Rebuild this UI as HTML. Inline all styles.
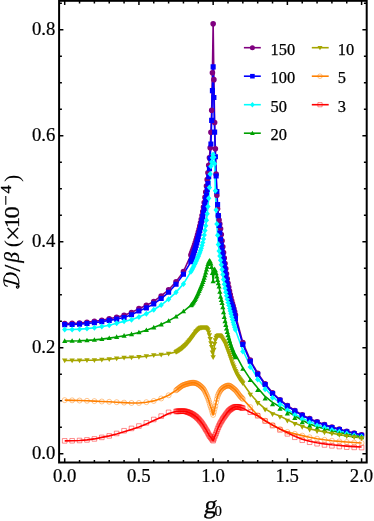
<!DOCTYPE html>
<html><head><meta charset="utf-8"><title>plot</title>
<style>html,body{margin:0;padding:0;background:#fff;}body{width:374px;height:521px;overflow:hidden;font-family:"Liberation Serif",serif;}svg{display:block;will-change:transform;}</style>
</head><body>
<svg width="374" height="521" viewBox="0 0 374 521">
<rect width="374" height="521" fill="#fff"/>
<g clip-path="url(#cp)">
<path d="M64.7 323.58L72.12 323.38L79.55 323L86.97 322.33L94.39 321.36L101.81 320.21L109.24 318.81L116.66 317.23L124.08 315.26L131.5 312.45L138.93 308.59L146.35 305.41L153.77 301.43L161.19 295.97L168.62 289.77L176.04 281.77L183.46 271.64L190.88 254.99L191.62 253.07L192.37 251.08L193.11 249.04L193.85 246.93L194.59 244.73L195.34 242.45L196.08 240.06L196.82 237.56L197.56 234.92L198.31 232.14L199.05 229.22L199.79 226.13L200.53 222.85L201.27 219.36L202.02 215.62L202.76 211.57L203.5 207.17L204.24 202.44L204.99 197.41L205.73 192.01L206.47 186.09L207.21 179.65L207.95 172.69L208.7 165.37L209.44 157.7L210.18 147.83L210.92 132.26L211.67 110.32L212.41 72.81L213.15 23.87L213.89 79.63L214.63 122.45L215.38 148.79L216.12 174.13L216.86 195.24L217.6 208.75L218.35 215.68L219.09 220.12L219.83 224.12L220.57 228.72L221.31 234.43L222.06 240.68L222.8 246.73L223.54 252.44L224.28 258.06L225.03 263.47L225.77 268.67L226.51 273.81L227.25 278.72L228 283.23L228.74 287.28L229.48 291.03L230.22 294.52L230.96 297.77L231.71 300.8L232.45 303.6L233.19 306.05L233.93 308.72L234.68 311.77L235.42 314.99L242.84 342.66L250.26 360.15L257.69 373.25L265.11 383.74L272.53 392.8L279.95 399.75L287.38 405.52L294.8 410.5L302.22 414.85L309.64 418.67L317.07 421.79L324.49 424.55L331.91 426.94L339.33 429.06L346.76 431.18L354.18 433.03L361.6 434.78" fill="none" stroke="#800080" stroke-width="1.6" stroke-linejoin="round"/>
<path d="M64.7 324.64L72.12 324.49L79.55 324.17L86.97 323.57L94.39 322.68L101.81 321.64L109.24 320.4L116.66 319.09L124.08 317.44L131.5 314.79L138.93 311.02L146.35 307.84L153.77 303.92L161.19 298.52L168.62 292.31L176.04 284.31L183.46 274.19L190.88 261.81L191.62 259.81L192.37 257.65L193.11 255.36L193.85 252.95L194.59 250.46L195.34 247.93L196.08 245.36L196.82 242.64L197.56 239.78L198.31 236.79L199.05 233.68L199.79 230.47L200.53 227.2L201.27 223.82L202.02 220.3L202.76 216.62L203.5 212.72L204.24 208.56L204.99 204.2L205.73 199.6L206.47 194.7L207.21 189.38L207.95 183.47L208.7 176.69L209.44 168.58L210.18 158.28L210.92 144.02L211.67 120.33L212.41 90.65L213.15 66.91L213.89 97.54L214.63 132.1L215.38 156.79L216.12 175.98L216.86 191.53L217.6 204.49L218.35 215.66L219.09 225.4L219.83 233.07L220.57 239.28L221.31 244.89L222.06 250.32L222.8 255.38L223.54 260.25L224.28 265.1L225.03 270.13L225.77 275.33L226.51 280.33L227.25 284.9L228 289.18L228.74 293.31L229.48 297.13L230.22 300.49L230.96 303.31L231.71 305.41L232.45 307.17L233.19 309.32L233.93 312.11L234.68 315.3L235.42 318.66L242.84 344.52L250.26 361.32L257.69 374.2L265.11 384.48L272.53 393.49L279.95 400.38L287.38 406.11L294.8 411.09L302.22 415.38L309.64 419.2L317.07 422.32L324.49 425.08L331.91 427.46L339.33 429.59L346.76 431.71L354.18 433.56L361.6 435.31" fill="none" stroke="#0000ff" stroke-width="1.6" stroke-linejoin="round"/>
<path d="M64.7 329.57L72.12 329.44L79.55 329.15L86.97 328.59L94.39 327.72L101.81 326.6L109.24 325.17L116.66 323.32L124.08 321.36L131.5 319.82L138.93 317.01L146.35 313.83L153.77 309.7L161.19 305.03L168.62 299.2L176.04 292.31L183.46 283.89L190.88 271.7L191.62 270.32L192.37 268.91L193.11 267.47L193.85 265.99L194.59 264.47L195.34 262.9L196.08 261.31L196.82 259.71L197.56 258.07L198.31 256.38L199.05 254.59L199.79 252.67L200.53 250.57L201.27 248.2L202.02 245.49L202.76 242.39L203.5 238.89L204.24 234.95L204.99 230.59L205.73 225.73L206.47 220.13L207.21 213.72L207.95 206.49L208.7 198.15L209.44 187.52L210.18 174L210.92 166.29L211.67 162.07L212.41 157.69L213.15 154.62L213.89 157.26L214.63 163.69L215.38 190.65L216.12 210.01L216.86 224.01L217.6 235.24L218.35 244.45L219.09 251.12L219.83 256.03L220.57 260.34L221.31 264.7L222.06 269.48L222.8 274.53L223.54 279.51L224.28 284.16L225.03 288.34L225.77 292.2L226.51 295.82L227.25 299.22L228 302.39L228.74 305.32L229.48 308.06L230.22 310.91L230.96 313.78L231.71 316.64L232.45 319.45L233.19 322.17L233.93 324.8L234.68 327.32L235.42 329.74L242.84 350.51L250.26 365.99L257.69 378.55L265.11 388.3L272.53 396.73L279.95 403.19L287.38 409.18L294.8 414.11L302.22 418.19L309.64 421.58L317.07 424.81L324.49 427.2L331.91 429.32L339.33 431.33L346.76 433.14L354.18 434.88L361.6 436.48" fill="none" stroke="#00ffff" stroke-width="1.6" stroke-linejoin="round"/>
<path d="M64.7 341.02L72.12 340.94L79.55 340.76L86.97 340.41L94.39 339.86L101.81 339.11L109.24 338.16L116.66 337.06L124.08 335.77L131.5 334.29L138.93 332.44L146.35 330.21L153.77 327.51L161.19 324.49L168.62 320.88L176.04 316.59L183.46 311.39L190.88 305.41L191.62 304.55L192.37 303.6L193.11 302.56L193.85 301.43L194.59 300.2L195.34 298.88L196.08 297.47L196.82 295.97L197.56 294.4L198.31 292.75L199.05 291.05L199.79 289.31L200.53 287.56L201.27 285.83L202.02 284.12L202.76 282.23L203.5 280.11L204.24 277.78L204.99 275.24L205.73 272.53L206.47 269.68L207.21 266.8L207.95 264.08L208.7 261.84L209.44 260.73L210.18 261.38L210.92 263.64L211.67 267.14L212.41 273.01L213.15 281.29L213.89 272.97L214.63 269.19L215.38 270.39L216.12 273.3L216.86 276.67L217.6 280.06L218.35 283.31L219.09 286.69L219.83 291.57L220.57 296.14L221.31 299L222.06 301.53L222.8 305.3L223.54 309.99L224.28 314.4L225.03 318.06L225.77 321.88L226.51 325.49L227.25 328.89L228 332.08L228.74 335.08L229.48 337.87L230.22 340.48L230.96 342.91L231.71 345.16L232.45 347.25L233.19 349.18L233.93 350.96L234.68 352.58L235.42 354.07L242.84 367.84L250.26 379.08L257.69 387.98L265.11 396.47L272.53 402.35L279.95 406.81L287.38 411.37L294.8 415.9L302.22 420.31L309.64 424.07L317.07 426.67L324.49 428.79L331.91 430.74L339.33 432.5L346.76 434.06L354.18 435.47L361.6 436.74" fill="none" stroke="#00a000" stroke-width="1.6" stroke-linejoin="round"/>
<path d="M64.7 360.47L72.12 360.46L79.55 360.42L86.97 360.31L94.39 360.1L101.81 359.68L109.24 359.1L116.66 358.45L124.08 357.82L131.5 357.41L138.93 356.98L146.35 356.22L153.77 355.23L161.19 354.7L168.62 353.69L176.04 351.86L176.78 351.53L177.52 351.15L178.26 350.73L179.01 350.27L179.75 349.8L180.49 349.31L181.23 348.78L181.98 348.21L182.72 347.61L183.46 346.97L184.2 346.3L184.94 345.6L185.69 344.89L186.43 344.15L187.17 343.36L187.91 342.54L188.66 341.68L189.4 340.8L190.14 339.89L190.88 338.97L191.62 338.05L192.37 337.07L193.11 336.03L193.85 334.95L194.59 333.87L195.34 332.81L196.08 331.83L196.82 330.97L197.56 330.21L198.31 329.44L199.05 328.71L199.79 328.12L200.53 327.75L201.27 327.58L202.02 327.44L202.76 327.32L203.5 327.23L204.24 327.19L204.99 327.27L205.73 327.62L206.47 328.21L207.21 328.99L207.95 330.32L208.7 332.46L209.44 335.15L210.18 338.98L210.92 343.09L211.67 347.06L212.41 352.35L213.15 357.24L213.89 349.8L214.63 343.96L215.38 340.22L216.12 337.63L216.86 336.51L217.6 335.85L218.35 335.44L219.09 335.26L219.83 335.39L220.57 336.04L221.31 337.01L222.06 338.15L222.8 339.37L223.54 340.61L224.28 341.83L225.03 343.14L225.77 344.82L226.51 346.72L227.25 348.74L228 350.79L228.74 352.8L229.48 354.76L230.22 356.86L230.96 359.06L231.71 361.26L232.45 363.41L233.19 365.43L233.93 367.3L234.68 369.1L235.42 370.86L236.16 372.54L236.9 374.13L237.64 375.61L238.39 376.97L239.13 378.18L239.87 379.28L240.61 380.29L241.36 381.27L242.1 382.24L242.84 383.24L250.26 393.81L257.69 402.29L265.11 408.91L272.53 413.3L279.95 416.06L287.38 419.87L294.8 423.22L302.22 426.11L309.64 428.88L317.07 430.49L324.49 431.86L331.91 433.29L339.33 434.62L346.76 435.85L354.18 436.99L361.6 438.06" fill="none" stroke="#a6a600" stroke-width="1.6" stroke-linejoin="round"/>
<path d="M64.7 400.17L72.12 400.33L79.55 400.54L86.97 400.81L94.39 401.12L101.81 401.5L109.24 401.81L116.66 402.18L124.08 402.61L131.5 402.98L138.93 402.98L146.35 402.18L153.77 400.91L161.19 398.47L168.62 395.29L176.04 390.34L176.78 389.76L177.52 389.17L178.26 388.58L179.01 387.98L179.75 387.39L180.49 386.82L181.23 386.28L181.98 385.8L182.72 385.38L183.46 385.05L184.2 384.8L184.94 384.55L185.69 384.31L186.43 384.08L187.17 383.85L187.91 383.63L188.66 383.43L189.4 383.24L190.14 383.07L190.88 382.93L191.62 382.83L192.37 382.76L193.11 382.73L193.85 382.77L194.59 382.86L195.34 383.02L196.08 383.25L196.82 383.54L197.56 383.9L198.31 384.33L199.05 384.82L199.79 385.38L200.53 386L201.27 386.66L202.02 387.37L202.76 388.11L203.5 389.04L204.24 390.19L204.99 391.55L205.73 393.09L206.47 394.75L207.21 396.43L207.95 398.27L208.7 400.41L209.44 402.83L210.18 405.38L210.92 407.62L211.67 409.8L212.41 412.53L213.15 414.9L213.89 412.04L214.63 408.85L215.38 406.07L216.12 402.46L216.86 399.07L217.6 396.34L218.35 394.34L219.09 392.79L219.83 391.44L220.57 390.28L221.31 389.32L222.06 388.54L222.8 387.92L223.54 387.42L224.28 386.95L225.03 386.53L225.77 386.17L226.51 385.88L227.25 385.68L228 385.57L228.74 385.55L229.48 385.7L230.22 386.03L230.96 386.48L231.71 387.01L232.45 387.6L233.19 388.22L233.93 388.84L234.68 389.45L235.42 390.11L236.16 390.93L236.9 391.86L237.64 392.85L238.39 393.86L239.13 394.86L239.87 395.82L240.61 396.71L241.36 397.52L242.1 398.26L242.84 398.98L250.26 407.09L257.69 415.27L265.11 420.67L272.53 424.98L279.95 429.01L287.38 431.9L294.8 433.82L302.22 435.62L309.64 437.28L317.07 438.68L324.49 439.81L331.91 440.69L339.33 441.4L346.76 442.02L354.18 442.55L361.6 442.99" fill="none" stroke="#ff8000" stroke-width="1.6" stroke-linejoin="round"/>
<path d="M64.7 440.87L72.12 440.77L79.55 440.5L86.97 439.91L94.39 438.91L101.81 437.38L109.24 435.89L116.66 433.98L124.08 431.81L131.5 429.48L138.93 427.09L146.35 423.91L153.77 420.57L161.19 417.18L168.62 413.42L176.04 411.42L176.78 411.38L177.52 411.34L178.26 411.31L179.01 411.28L179.75 411.26L180.49 411.24L181.23 411.22L181.98 411.21L182.72 411.2L183.46 411.19L184.2 411.21L184.94 411.29L185.69 411.43L186.43 411.63L187.17 411.87L187.91 412.14L188.66 412.42L189.4 412.7L190.14 413L190.88 413.34L191.62 413.72L192.37 414.14L193.11 414.59L193.85 415.08L194.59 415.6L195.34 416.15L196.08 416.75L196.82 417.41L197.56 418.13L198.31 418.9L199.05 419.72L199.79 420.57L200.53 421.44L201.27 422.35L202.02 423.34L202.76 424.41L203.5 425.55L204.24 426.74L204.99 427.96L205.73 429.19L206.47 430.38L207.21 431.66L207.95 433.04L208.7 434.47L209.44 435.78L210.18 436.71L210.92 437.61L211.67 438.64L212.41 439.8L213.15 440.71L213.89 438.84L214.63 436.65L215.38 434.88L216.12 433.12L216.86 431.05L217.6 429.02L218.35 427.17L219.09 425.54L219.83 424.08L220.57 422.68L221.31 421.34L222.06 420.07L222.8 418.87L223.54 417.74L224.28 416.67L225.03 415.66L225.77 414.63L226.51 413.59L227.25 412.59L228 411.66L228.74 410.82L229.48 410.09L230.22 409.49L230.96 408.99L231.71 408.5L232.45 408.03L233.19 407.61L233.93 407.26L234.68 406.99L235.42 406.82L236.16 406.74L236.9 406.76L237.64 406.83L238.39 406.94L239.13 407.08L239.87 407.26L240.61 407.46L241.36 407.68L242.1 407.91L242.84 408.16L250.26 412.2L257.69 415.81L265.11 420.78L272.53 425.09L279.95 429.11L287.38 432.81L294.8 436.21L302.22 439.18L309.64 441.18L317.07 442.69L324.49 443.89L331.91 444.78L339.33 445.49L346.76 446.08L354.18 446.6L361.6 447.02" fill="none" stroke="#ff0000" stroke-width="1.6" stroke-linejoin="round"/>
<path d="M64.7 323.58m-2.8 0a2.8 2.8 0 1 0 5.6 0a2.8 2.8 0 1 0 -5.6 0M72.12 323.38m-2.8 0a2.8 2.8 0 1 0 5.6 0a2.8 2.8 0 1 0 -5.6 0M79.55 323m-2.8 0a2.8 2.8 0 1 0 5.6 0a2.8 2.8 0 1 0 -5.6 0M86.97 322.33m-2.8 0a2.8 2.8 0 1 0 5.6 0a2.8 2.8 0 1 0 -5.6 0M94.39 321.36m-2.8 0a2.8 2.8 0 1 0 5.6 0a2.8 2.8 0 1 0 -5.6 0M101.81 320.21m-2.8 0a2.8 2.8 0 1 0 5.6 0a2.8 2.8 0 1 0 -5.6 0M109.24 318.81m-2.8 0a2.8 2.8 0 1 0 5.6 0a2.8 2.8 0 1 0 -5.6 0M116.66 317.23m-2.8 0a2.8 2.8 0 1 0 5.6 0a2.8 2.8 0 1 0 -5.6 0M124.08 315.26m-2.8 0a2.8 2.8 0 1 0 5.6 0a2.8 2.8 0 1 0 -5.6 0M131.5 312.45m-2.8 0a2.8 2.8 0 1 0 5.6 0a2.8 2.8 0 1 0 -5.6 0M138.93 308.59m-2.8 0a2.8 2.8 0 1 0 5.6 0a2.8 2.8 0 1 0 -5.6 0M146.35 305.41m-2.8 0a2.8 2.8 0 1 0 5.6 0a2.8 2.8 0 1 0 -5.6 0M153.77 301.43m-2.8 0a2.8 2.8 0 1 0 5.6 0a2.8 2.8 0 1 0 -5.6 0M161.19 295.97m-2.8 0a2.8 2.8 0 1 0 5.6 0a2.8 2.8 0 1 0 -5.6 0M168.62 289.77m-2.8 0a2.8 2.8 0 1 0 5.6 0a2.8 2.8 0 1 0 -5.6 0M176.04 281.77m-2.8 0a2.8 2.8 0 1 0 5.6 0a2.8 2.8 0 1 0 -5.6 0M183.46 271.64m-2.8 0a2.8 2.8 0 1 0 5.6 0a2.8 2.8 0 1 0 -5.6 0M190.88 254.99m-2.8 0a2.8 2.8 0 1 0 5.6 0a2.8 2.8 0 1 0 -5.6 0M191.62 253.07m-2.8 0a2.8 2.8 0 1 0 5.6 0a2.8 2.8 0 1 0 -5.6 0M192.37 251.08m-2.8 0a2.8 2.8 0 1 0 5.6 0a2.8 2.8 0 1 0 -5.6 0M193.11 249.04m-2.8 0a2.8 2.8 0 1 0 5.6 0a2.8 2.8 0 1 0 -5.6 0M193.85 246.93m-2.8 0a2.8 2.8 0 1 0 5.6 0a2.8 2.8 0 1 0 -5.6 0M194.59 244.73m-2.8 0a2.8 2.8 0 1 0 5.6 0a2.8 2.8 0 1 0 -5.6 0M195.34 242.45m-2.8 0a2.8 2.8 0 1 0 5.6 0a2.8 2.8 0 1 0 -5.6 0M196.08 240.06m-2.8 0a2.8 2.8 0 1 0 5.6 0a2.8 2.8 0 1 0 -5.6 0M196.82 237.56m-2.8 0a2.8 2.8 0 1 0 5.6 0a2.8 2.8 0 1 0 -5.6 0M197.56 234.92m-2.8 0a2.8 2.8 0 1 0 5.6 0a2.8 2.8 0 1 0 -5.6 0M198.31 232.14m-2.8 0a2.8 2.8 0 1 0 5.6 0a2.8 2.8 0 1 0 -5.6 0M199.05 229.22m-2.8 0a2.8 2.8 0 1 0 5.6 0a2.8 2.8 0 1 0 -5.6 0M199.79 226.13m-2.8 0a2.8 2.8 0 1 0 5.6 0a2.8 2.8 0 1 0 -5.6 0M200.53 222.85m-2.8 0a2.8 2.8 0 1 0 5.6 0a2.8 2.8 0 1 0 -5.6 0M201.27 219.36m-2.8 0a2.8 2.8 0 1 0 5.6 0a2.8 2.8 0 1 0 -5.6 0M202.02 215.62m-2.8 0a2.8 2.8 0 1 0 5.6 0a2.8 2.8 0 1 0 -5.6 0M202.76 211.57m-2.8 0a2.8 2.8 0 1 0 5.6 0a2.8 2.8 0 1 0 -5.6 0M203.5 207.17m-2.8 0a2.8 2.8 0 1 0 5.6 0a2.8 2.8 0 1 0 -5.6 0M204.24 202.44m-2.8 0a2.8 2.8 0 1 0 5.6 0a2.8 2.8 0 1 0 -5.6 0M204.99 197.41m-2.8 0a2.8 2.8 0 1 0 5.6 0a2.8 2.8 0 1 0 -5.6 0M205.73 192.01m-2.8 0a2.8 2.8 0 1 0 5.6 0a2.8 2.8 0 1 0 -5.6 0M206.47 186.09m-2.8 0a2.8 2.8 0 1 0 5.6 0a2.8 2.8 0 1 0 -5.6 0M207.21 179.65m-2.8 0a2.8 2.8 0 1 0 5.6 0a2.8 2.8 0 1 0 -5.6 0M207.95 172.69m-2.8 0a2.8 2.8 0 1 0 5.6 0a2.8 2.8 0 1 0 -5.6 0M208.7 165.37m-2.8 0a2.8 2.8 0 1 0 5.6 0a2.8 2.8 0 1 0 -5.6 0M209.44 157.7m-2.8 0a2.8 2.8 0 1 0 5.6 0a2.8 2.8 0 1 0 -5.6 0M210.18 147.83m-2.8 0a2.8 2.8 0 1 0 5.6 0a2.8 2.8 0 1 0 -5.6 0M210.92 132.26m-2.8 0a2.8 2.8 0 1 0 5.6 0a2.8 2.8 0 1 0 -5.6 0M211.67 110.32m-2.8 0a2.8 2.8 0 1 0 5.6 0a2.8 2.8 0 1 0 -5.6 0M212.41 72.81m-2.8 0a2.8 2.8 0 1 0 5.6 0a2.8 2.8 0 1 0 -5.6 0M213.15 23.87m-2.8 0a2.8 2.8 0 1 0 5.6 0a2.8 2.8 0 1 0 -5.6 0M213.89 79.63m-2.8 0a2.8 2.8 0 1 0 5.6 0a2.8 2.8 0 1 0 -5.6 0M214.63 122.45m-2.8 0a2.8 2.8 0 1 0 5.6 0a2.8 2.8 0 1 0 -5.6 0M215.38 148.79m-2.8 0a2.8 2.8 0 1 0 5.6 0a2.8 2.8 0 1 0 -5.6 0M216.12 174.13m-2.8 0a2.8 2.8 0 1 0 5.6 0a2.8 2.8 0 1 0 -5.6 0M216.86 195.24m-2.8 0a2.8 2.8 0 1 0 5.6 0a2.8 2.8 0 1 0 -5.6 0M217.6 208.75m-2.8 0a2.8 2.8 0 1 0 5.6 0a2.8 2.8 0 1 0 -5.6 0M218.35 215.68m-2.8 0a2.8 2.8 0 1 0 5.6 0a2.8 2.8 0 1 0 -5.6 0M219.09 220.12m-2.8 0a2.8 2.8 0 1 0 5.6 0a2.8 2.8 0 1 0 -5.6 0M219.83 224.12m-2.8 0a2.8 2.8 0 1 0 5.6 0a2.8 2.8 0 1 0 -5.6 0M220.57 228.72m-2.8 0a2.8 2.8 0 1 0 5.6 0a2.8 2.8 0 1 0 -5.6 0M221.31 234.43m-2.8 0a2.8 2.8 0 1 0 5.6 0a2.8 2.8 0 1 0 -5.6 0M222.06 240.68m-2.8 0a2.8 2.8 0 1 0 5.6 0a2.8 2.8 0 1 0 -5.6 0M222.8 246.73m-2.8 0a2.8 2.8 0 1 0 5.6 0a2.8 2.8 0 1 0 -5.6 0M223.54 252.44m-2.8 0a2.8 2.8 0 1 0 5.6 0a2.8 2.8 0 1 0 -5.6 0M224.28 258.06m-2.8 0a2.8 2.8 0 1 0 5.6 0a2.8 2.8 0 1 0 -5.6 0M225.03 263.47m-2.8 0a2.8 2.8 0 1 0 5.6 0a2.8 2.8 0 1 0 -5.6 0M225.77 268.67m-2.8 0a2.8 2.8 0 1 0 5.6 0a2.8 2.8 0 1 0 -5.6 0M226.51 273.81m-2.8 0a2.8 2.8 0 1 0 5.6 0a2.8 2.8 0 1 0 -5.6 0M227.25 278.72m-2.8 0a2.8 2.8 0 1 0 5.6 0a2.8 2.8 0 1 0 -5.6 0M228 283.23m-2.8 0a2.8 2.8 0 1 0 5.6 0a2.8 2.8 0 1 0 -5.6 0M228.74 287.28m-2.8 0a2.8 2.8 0 1 0 5.6 0a2.8 2.8 0 1 0 -5.6 0M229.48 291.03m-2.8 0a2.8 2.8 0 1 0 5.6 0a2.8 2.8 0 1 0 -5.6 0M230.22 294.52m-2.8 0a2.8 2.8 0 1 0 5.6 0a2.8 2.8 0 1 0 -5.6 0M230.96 297.77m-2.8 0a2.8 2.8 0 1 0 5.6 0a2.8 2.8 0 1 0 -5.6 0M231.71 300.8m-2.8 0a2.8 2.8 0 1 0 5.6 0a2.8 2.8 0 1 0 -5.6 0M232.45 303.6m-2.8 0a2.8 2.8 0 1 0 5.6 0a2.8 2.8 0 1 0 -5.6 0M233.19 306.05m-2.8 0a2.8 2.8 0 1 0 5.6 0a2.8 2.8 0 1 0 -5.6 0M233.93 308.72m-2.8 0a2.8 2.8 0 1 0 5.6 0a2.8 2.8 0 1 0 -5.6 0M234.68 311.77m-2.8 0a2.8 2.8 0 1 0 5.6 0a2.8 2.8 0 1 0 -5.6 0M235.42 314.99m-2.8 0a2.8 2.8 0 1 0 5.6 0a2.8 2.8 0 1 0 -5.6 0M242.84 342.66m-2.8 0a2.8 2.8 0 1 0 5.6 0a2.8 2.8 0 1 0 -5.6 0M250.26 360.15m-2.8 0a2.8 2.8 0 1 0 5.6 0a2.8 2.8 0 1 0 -5.6 0M257.69 373.25m-2.8 0a2.8 2.8 0 1 0 5.6 0a2.8 2.8 0 1 0 -5.6 0M265.11 383.74m-2.8 0a2.8 2.8 0 1 0 5.6 0a2.8 2.8 0 1 0 -5.6 0M272.53 392.8m-2.8 0a2.8 2.8 0 1 0 5.6 0a2.8 2.8 0 1 0 -5.6 0M279.95 399.75m-2.8 0a2.8 2.8 0 1 0 5.6 0a2.8 2.8 0 1 0 -5.6 0M287.38 405.52m-2.8 0a2.8 2.8 0 1 0 5.6 0a2.8 2.8 0 1 0 -5.6 0M294.8 410.5m-2.8 0a2.8 2.8 0 1 0 5.6 0a2.8 2.8 0 1 0 -5.6 0M302.22 414.85m-2.8 0a2.8 2.8 0 1 0 5.6 0a2.8 2.8 0 1 0 -5.6 0M309.64 418.67m-2.8 0a2.8 2.8 0 1 0 5.6 0a2.8 2.8 0 1 0 -5.6 0M317.07 421.79m-2.8 0a2.8 2.8 0 1 0 5.6 0a2.8 2.8 0 1 0 -5.6 0M324.49 424.55m-2.8 0a2.8 2.8 0 1 0 5.6 0a2.8 2.8 0 1 0 -5.6 0M331.91 426.94m-2.8 0a2.8 2.8 0 1 0 5.6 0a2.8 2.8 0 1 0 -5.6 0M339.33 429.06m-2.8 0a2.8 2.8 0 1 0 5.6 0a2.8 2.8 0 1 0 -5.6 0M346.76 431.18m-2.8 0a2.8 2.8 0 1 0 5.6 0a2.8 2.8 0 1 0 -5.6 0M354.18 433.03m-2.8 0a2.8 2.8 0 1 0 5.6 0a2.8 2.8 0 1 0 -5.6 0M361.6 434.78m-2.8 0a2.8 2.8 0 1 0 5.6 0a2.8 2.8 0 1 0 -5.6 0" fill="#800080"/>
<path d="M62.15 322.09h5.1v5.1h-5.1zM69.57 321.94h5.1v5.1h-5.1zM77 321.62h5.1v5.1h-5.1zM84.42 321.02h5.1v5.1h-5.1zM91.84 320.13h5.1v5.1h-5.1zM99.26 319.09h5.1v5.1h-5.1zM106.69 317.85h5.1v5.1h-5.1zM114.11 316.54h5.1v5.1h-5.1zM121.53 314.89h5.1v5.1h-5.1zM128.95 312.24h5.1v5.1h-5.1zM136.38 308.47h5.1v5.1h-5.1zM143.8 305.29h5.1v5.1h-5.1zM151.22 301.37h5.1v5.1h-5.1zM158.64 295.97h5.1v5.1h-5.1zM166.06 289.76h5.1v5.1h-5.1zM173.49 281.76h5.1v5.1h-5.1zM180.91 271.64h5.1v5.1h-5.1zM188.33 259.26h5.1v5.1h-5.1zM189.07 257.26h5.1v5.1h-5.1zM189.82 255.1h5.1v5.1h-5.1zM190.56 252.81h5.1v5.1h-5.1zM191.3 250.4h5.1v5.1h-5.1zM192.04 247.91h5.1v5.1h-5.1zM192.79 245.38h5.1v5.1h-5.1zM193.53 242.81h5.1v5.1h-5.1zM194.27 240.09h5.1v5.1h-5.1zM195.01 237.23h5.1v5.1h-5.1zM195.75 234.24h5.1v5.1h-5.1zM196.5 231.13h5.1v5.1h-5.1zM197.24 227.92h5.1v5.1h-5.1zM197.98 224.65h5.1v5.1h-5.1zM198.72 221.27h5.1v5.1h-5.1zM199.47 217.75h5.1v5.1h-5.1zM200.21 214.07h5.1v5.1h-5.1zM200.95 210.17h5.1v5.1h-5.1zM201.69 206.01h5.1v5.1h-5.1zM202.44 201.65h5.1v5.1h-5.1zM203.18 197.05h5.1v5.1h-5.1zM203.92 192.15h5.1v5.1h-5.1zM204.66 186.83h5.1v5.1h-5.1zM205.4 180.92h5.1v5.1h-5.1zM206.15 174.14h5.1v5.1h-5.1zM206.89 166.03h5.1v5.1h-5.1zM207.63 155.73h5.1v5.1h-5.1zM208.37 141.47h5.1v5.1h-5.1zM209.12 117.78h5.1v5.1h-5.1zM209.86 88.1h5.1v5.1h-5.1zM210.6 64.36h5.1v5.1h-5.1zM211.34 94.99h5.1v5.1h-5.1zM212.08 129.55h5.1v5.1h-5.1zM212.83 154.24h5.1v5.1h-5.1zM213.57 173.43h5.1v5.1h-5.1zM214.31 188.98h5.1v5.1h-5.1zM215.05 201.94h5.1v5.1h-5.1zM215.8 213.11h5.1v5.1h-5.1zM216.54 222.85h5.1v5.1h-5.1zM217.28 230.52h5.1v5.1h-5.1zM218.02 236.73h5.1v5.1h-5.1zM218.76 242.34h5.1v5.1h-5.1zM219.51 247.77h5.1v5.1h-5.1zM220.25 252.83h5.1v5.1h-5.1zM220.99 257.7h5.1v5.1h-5.1zM221.73 262.55h5.1v5.1h-5.1zM222.48 267.58h5.1v5.1h-5.1zM223.22 272.78h5.1v5.1h-5.1zM223.96 277.78h5.1v5.1h-5.1zM224.7 282.35h5.1v5.1h-5.1zM225.44 286.63h5.1v5.1h-5.1zM226.19 290.76h5.1v5.1h-5.1zM226.93 294.58h5.1v5.1h-5.1zM227.67 297.94h5.1v5.1h-5.1zM228.41 300.76h5.1v5.1h-5.1zM229.16 302.86h5.1v5.1h-5.1zM229.9 304.62h5.1v5.1h-5.1zM230.64 306.77h5.1v5.1h-5.1zM231.38 309.56h5.1v5.1h-5.1zM232.13 312.75h5.1v5.1h-5.1zM232.87 316.11h5.1v5.1h-5.1zM240.29 341.97h5.1v5.1h-5.1zM247.71 358.77h5.1v5.1h-5.1zM255.13 371.65h5.1v5.1h-5.1zM262.56 381.93h5.1v5.1h-5.1zM269.98 390.94h5.1v5.1h-5.1zM277.4 397.83h5.1v5.1h-5.1zM284.82 403.56h5.1v5.1h-5.1zM292.25 408.54h5.1v5.1h-5.1zM299.67 412.83h5.1v5.1h-5.1zM307.09 416.65h5.1v5.1h-5.1zM314.52 419.77h5.1v5.1h-5.1zM321.94 422.53h5.1v5.1h-5.1zM329.36 424.91h5.1v5.1h-5.1zM336.78 427.04h5.1v5.1h-5.1zM344.21 429.16h5.1v5.1h-5.1zM351.63 431.01h5.1v5.1h-5.1zM359.05 432.76h5.1v5.1h-5.1z" fill="#0000ff"/>
<path d="M64.7 326.57l2.65 3l-2.65 3l-2.65 -3zM72.12 326.44l2.65 3l-2.65 3l-2.65 -3zM79.55 326.15l2.65 3l-2.65 3l-2.65 -3zM86.97 325.59l2.65 3l-2.65 3l-2.65 -3zM94.39 324.72l2.65 3l-2.65 3l-2.65 -3zM101.81 323.6l2.65 3l-2.65 3l-2.65 -3zM109.24 322.17l2.65 3l-2.65 3l-2.65 -3zM116.66 320.32l2.65 3l-2.65 3l-2.65 -3zM124.08 318.36l2.65 3l-2.65 3l-2.65 -3zM131.5 316.82l2.65 3l-2.65 3l-2.65 -3zM138.93 314.01l2.65 3l-2.65 3l-2.65 -3zM146.35 310.83l2.65 3l-2.65 3l-2.65 -3zM153.77 306.7l2.65 3l-2.65 3l-2.65 -3zM161.19 302.03l2.65 3l-2.65 3l-2.65 -3zM168.62 296.2l2.65 3l-2.65 3l-2.65 -3zM176.04 289.31l2.65 3l-2.65 3l-2.65 -3zM183.46 280.89l2.65 3l-2.65 3l-2.65 -3zM190.88 268.7l2.65 3l-2.65 3l-2.65 -3zM191.62 267.32l2.65 3l-2.65 3l-2.65 -3zM192.37 265.91l2.65 3l-2.65 3l-2.65 -3zM193.11 264.47l2.65 3l-2.65 3l-2.65 -3zM193.85 262.99l2.65 3l-2.65 3l-2.65 -3zM194.59 261.47l2.65 3l-2.65 3l-2.65 -3zM195.34 259.9l2.65 3l-2.65 3l-2.65 -3zM196.08 258.31l2.65 3l-2.65 3l-2.65 -3zM196.82 256.71l2.65 3l-2.65 3l-2.65 -3zM197.56 255.07l2.65 3l-2.65 3l-2.65 -3zM198.31 253.38l2.65 3l-2.65 3l-2.65 -3zM199.05 251.59l2.65 3l-2.65 3l-2.65 -3zM199.79 249.67l2.65 3l-2.65 3l-2.65 -3zM200.53 247.57l2.65 3l-2.65 3l-2.65 -3zM201.27 245.2l2.65 3l-2.65 3l-2.65 -3zM202.02 242.49l2.65 3l-2.65 3l-2.65 -3zM202.76 239.39l2.65 3l-2.65 3l-2.65 -3zM203.5 235.89l2.65 3l-2.65 3l-2.65 -3zM204.24 231.95l2.65 3l-2.65 3l-2.65 -3zM204.99 227.59l2.65 3l-2.65 3l-2.65 -3zM205.73 222.73l2.65 3l-2.65 3l-2.65 -3zM206.47 217.13l2.65 3l-2.65 3l-2.65 -3zM207.21 210.72l2.65 3l-2.65 3l-2.65 -3zM207.95 203.49l2.65 3l-2.65 3l-2.65 -3zM208.7 195.15l2.65 3l-2.65 3l-2.65 -3zM209.44 184.52l2.65 3l-2.65 3l-2.65 -3zM210.18 171l2.65 3l-2.65 3l-2.65 -3zM210.92 163.29l2.65 3l-2.65 3l-2.65 -3zM211.67 159.07l2.65 3l-2.65 3l-2.65 -3zM212.41 154.69l2.65 3l-2.65 3l-2.65 -3zM213.15 151.62l2.65 3l-2.65 3l-2.65 -3zM213.89 154.26l2.65 3l-2.65 3l-2.65 -3zM214.63 160.69l2.65 3l-2.65 3l-2.65 -3zM215.38 187.65l2.65 3l-2.65 3l-2.65 -3zM216.12 207.01l2.65 3l-2.65 3l-2.65 -3zM216.86 221.01l2.65 3l-2.65 3l-2.65 -3zM217.6 232.24l2.65 3l-2.65 3l-2.65 -3zM218.35 241.45l2.65 3l-2.65 3l-2.65 -3zM219.09 248.12l2.65 3l-2.65 3l-2.65 -3zM219.83 253.03l2.65 3l-2.65 3l-2.65 -3zM220.57 257.34l2.65 3l-2.65 3l-2.65 -3zM221.31 261.7l2.65 3l-2.65 3l-2.65 -3zM222.06 266.48l2.65 3l-2.65 3l-2.65 -3zM222.8 271.53l2.65 3l-2.65 3l-2.65 -3zM223.54 276.51l2.65 3l-2.65 3l-2.65 -3zM224.28 281.16l2.65 3l-2.65 3l-2.65 -3zM225.03 285.34l2.65 3l-2.65 3l-2.65 -3zM225.77 289.2l2.65 3l-2.65 3l-2.65 -3zM226.51 292.82l2.65 3l-2.65 3l-2.65 -3zM227.25 296.22l2.65 3l-2.65 3l-2.65 -3zM228 299.39l2.65 3l-2.65 3l-2.65 -3zM228.74 302.32l2.65 3l-2.65 3l-2.65 -3zM229.48 305.06l2.65 3l-2.65 3l-2.65 -3zM230.22 307.91l2.65 3l-2.65 3l-2.65 -3zM230.96 310.78l2.65 3l-2.65 3l-2.65 -3zM231.71 313.64l2.65 3l-2.65 3l-2.65 -3zM232.45 316.45l2.65 3l-2.65 3l-2.65 -3zM233.19 319.17l2.65 3l-2.65 3l-2.65 -3zM233.93 321.8l2.65 3l-2.65 3l-2.65 -3zM234.68 324.32l2.65 3l-2.65 3l-2.65 -3zM235.42 326.74l2.65 3l-2.65 3l-2.65 -3zM242.84 348.57l2.65 3l-2.65 3l-2.65 -3zM250.26 364.04l2.65 3l-2.65 3l-2.65 -3zM257.69 376.61l2.65 3l-2.65 3l-2.65 -3zM265.11 386.36l2.65 3l-2.65 3l-2.65 -3zM272.53 394.79l2.65 3l-2.65 3l-2.65 -3zM279.95 401.25l2.65 3l-2.65 3l-2.65 -3zM287.38 407.24l2.65 3l-2.65 3l-2.65 -3zM294.8 412.09l2.65 3l-2.65 3l-2.65 -3zM302.22 416.09l2.65 3l-2.65 3l-2.65 -3zM309.64 419.4l2.65 3l-2.65 3l-2.65 -3zM317.07 422.56l2.65 3l-2.65 3l-2.65 -3zM324.49 424.86l2.65 3l-2.65 3l-2.65 -3zM331.91 426.9l2.65 3l-2.65 3l-2.65 -3zM339.33 428.84l2.65 3l-2.65 3l-2.65 -3zM346.76 430.56l2.65 3l-2.65 3l-2.65 -3zM354.18 432.23l2.65 3l-2.65 3l-2.65 -3zM361.6 433.74l2.65 3l-2.65 3l-2.65 -3z" fill="#00ffff"/>
<path d="M64.7 338.32l2.6 4.59h-5.2zM72.12 338.24l2.6 4.59h-5.2zM79.55 338.06l2.6 4.59h-5.2zM86.97 337.71l2.6 4.59h-5.2zM94.39 337.16l2.6 4.59h-5.2zM101.81 336.41l2.6 4.59h-5.2zM109.24 335.46l2.6 4.59h-5.2zM116.66 334.36l2.6 4.59h-5.2zM124.08 333.07l2.6 4.59h-5.2zM131.5 331.59l2.6 4.59h-5.2zM138.93 329.74l2.6 4.59h-5.2zM146.35 327.51l2.6 4.59h-5.2zM153.77 324.81l2.6 4.59h-5.2zM161.19 321.79l2.6 4.59h-5.2zM168.62 318.18l2.6 4.59h-5.2zM176.04 313.89l2.6 4.59h-5.2zM183.46 308.69l2.6 4.59h-5.2zM190.88 302.71l2.6 4.59h-5.2zM191.62 301.85l2.6 4.59h-5.2zM192.37 300.9l2.6 4.59h-5.2zM193.11 299.86l2.6 4.59h-5.2zM193.85 298.73l2.6 4.59h-5.2zM194.59 297.5l2.6 4.59h-5.2zM195.34 296.18l2.6 4.59h-5.2zM196.08 294.77l2.6 4.59h-5.2zM196.82 293.27l2.6 4.59h-5.2zM197.56 291.7l2.6 4.59h-5.2zM198.31 290.05l2.6 4.59h-5.2zM199.05 288.35l2.6 4.59h-5.2zM199.79 286.61l2.6 4.59h-5.2zM200.53 284.86l2.6 4.59h-5.2zM201.27 283.13l2.6 4.59h-5.2zM202.02 281.42l2.6 4.59h-5.2zM202.76 279.53l2.6 4.59h-5.2zM203.5 277.41l2.6 4.59h-5.2zM204.24 275.08l2.6 4.59h-5.2zM204.99 272.54l2.6 4.59h-5.2zM205.73 269.83l2.6 4.59h-5.2zM206.47 266.98l2.6 4.59h-5.2zM207.21 264.1l2.6 4.59h-5.2zM207.95 261.38l2.6 4.59h-5.2zM208.7 259.14l2.6 4.59h-5.2zM209.44 258.03l2.6 4.59h-5.2zM210.18 258.68l2.6 4.59h-5.2zM210.92 260.94l2.6 4.59h-5.2zM211.67 264.44l2.6 4.59h-5.2zM212.41 270.31l2.6 4.59h-5.2zM213.15 278.59l2.6 4.59h-5.2zM213.89 270.27l2.6 4.59h-5.2zM214.63 266.49l2.6 4.59h-5.2zM215.38 267.69l2.6 4.59h-5.2zM216.12 270.6l2.6 4.59h-5.2zM216.86 273.97l2.6 4.59h-5.2zM217.6 277.36l2.6 4.59h-5.2zM218.35 280.61l2.6 4.59h-5.2zM219.09 283.99l2.6 4.59h-5.2zM219.83 289.27l2.6 4.59h-5.2zM220.57 294.24l2.6 4.59h-5.2zM221.31 297.5l2.6 4.59h-5.2zM222.06 300.42l2.6 4.59h-5.2zM222.8 304.58l2.6 4.59h-5.2zM223.54 309.67l2.6 4.59h-5.2zM224.28 314.49l2.6 4.59h-5.2zM225.03 318.54l2.6 4.59h-5.2zM225.77 322.36l2.6 4.59h-5.2zM226.51 325.97l2.6 4.59h-5.2zM227.25 329.37l2.6 4.59h-5.2zM228 332.56l2.6 4.59h-5.2zM228.74 335.56l2.6 4.59h-5.2zM229.48 338.35l2.6 4.59h-5.2zM230.22 340.96l2.6 4.59h-5.2zM230.96 343.39l2.6 4.59h-5.2zM231.71 345.64l2.6 4.59h-5.2zM232.45 347.73l2.6 4.59h-5.2zM233.19 349.66l2.6 4.59h-5.2zM233.93 351.44l2.6 4.59h-5.2zM234.68 353.06l2.6 4.59h-5.2zM235.42 354.55l2.6 4.59h-5.2zM242.84 366.2l2.6 4.59h-5.2zM250.26 377.44l2.6 4.59h-5.2zM257.69 387.4l2.6 4.59h-5.2zM265.11 395.89l2.6 4.59h-5.2zM272.53 401.77l2.6 4.59h-5.2zM279.95 406.23l2.6 4.59h-5.2zM287.38 410.79l2.6 4.59h-5.2zM294.8 415.32l2.6 4.59h-5.2zM302.22 419.73l2.6 4.59h-5.2zM309.64 423.23l2.6 4.59h-5.2zM317.07 425.56l2.6 4.59h-5.2zM324.49 427.42l2.6 4.59h-5.2zM331.91 429.21l2.6 4.59h-5.2zM339.33 430.81l2.6 4.59h-5.2zM346.76 432.21l2.6 4.59h-5.2zM354.18 433.46l2.6 4.59h-5.2zM361.6 434.57l2.6 4.59h-5.2z" fill="#00a000"/>
<path d="M64.7 363.27l-2.7 -4.76h5.4zM72.12 363.26l-2.7 -4.76h5.4zM79.55 363.22l-2.7 -4.76h5.4zM86.97 363.11l-2.7 -4.76h5.4zM94.39 362.9l-2.7 -4.76h5.4zM101.81 362.48l-2.7 -4.76h5.4zM109.24 361.9l-2.7 -4.76h5.4zM116.66 361.25l-2.7 -4.76h5.4zM124.08 360.62l-2.7 -4.76h5.4zM131.5 360.21l-2.7 -4.76h5.4zM138.93 359.78l-2.7 -4.76h5.4zM146.35 359.02l-2.7 -4.76h5.4zM153.77 358.03l-2.7 -4.76h5.4zM161.19 357.5l-2.7 -4.76h5.4zM168.62 356.49l-2.7 -4.76h5.4zM176.04 354.66l-2.7 -4.76h5.4zM176.78 354.33l-2.7 -4.76h5.4zM177.52 353.95l-2.7 -4.76h5.4zM178.26 353.53l-2.7 -4.76h5.4zM179.01 353.07l-2.7 -4.76h5.4zM179.75 352.6l-2.7 -4.76h5.4zM180.49 352.11l-2.7 -4.76h5.4zM181.23 351.58l-2.7 -4.76h5.4zM181.98 351.01l-2.7 -4.76h5.4zM182.72 350.41l-2.7 -4.76h5.4zM183.46 349.77l-2.7 -4.76h5.4zM184.2 349.1l-2.7 -4.76h5.4zM184.94 348.4l-2.7 -4.76h5.4zM185.69 347.69l-2.7 -4.76h5.4zM186.43 346.95l-2.7 -4.76h5.4zM187.17 346.16l-2.7 -4.76h5.4zM187.91 345.34l-2.7 -4.76h5.4zM188.66 344.48l-2.7 -4.76h5.4zM189.4 343.6l-2.7 -4.76h5.4zM190.14 342.69l-2.7 -4.76h5.4zM190.88 341.77l-2.7 -4.76h5.4zM191.62 340.85l-2.7 -4.76h5.4zM192.37 339.87l-2.7 -4.76h5.4zM193.11 338.83l-2.7 -4.76h5.4zM193.85 337.75l-2.7 -4.76h5.4zM194.59 336.67l-2.7 -4.76h5.4zM195.34 335.61l-2.7 -4.76h5.4zM196.08 334.63l-2.7 -4.76h5.4zM196.82 333.77l-2.7 -4.76h5.4zM197.56 333.01l-2.7 -4.76h5.4zM198.31 332.24l-2.7 -4.76h5.4zM199.05 331.51l-2.7 -4.76h5.4zM199.79 330.92l-2.7 -4.76h5.4zM200.53 330.55l-2.7 -4.76h5.4zM201.27 330.38l-2.7 -4.76h5.4zM202.02 330.24l-2.7 -4.76h5.4zM202.76 330.12l-2.7 -4.76h5.4zM203.5 330.03l-2.7 -4.76h5.4zM204.24 329.99l-2.7 -4.76h5.4zM204.99 330.07l-2.7 -4.76h5.4zM205.73 330.42l-2.7 -4.76h5.4zM206.47 331.01l-2.7 -4.76h5.4zM207.21 331.79l-2.7 -4.76h5.4zM207.95 333.12l-2.7 -4.76h5.4zM208.7 335.26l-2.7 -4.76h5.4zM209.44 337.95l-2.7 -4.76h5.4zM210.18 341.78l-2.7 -4.76h5.4zM210.92 345.89l-2.7 -4.76h5.4zM211.67 349.86l-2.7 -4.76h5.4zM212.41 355.15l-2.7 -4.76h5.4zM213.15 360.04l-2.7 -4.76h5.4zM213.89 352.6l-2.7 -4.76h5.4zM214.63 346.76l-2.7 -4.76h5.4zM215.38 343.02l-2.7 -4.76h5.4zM216.12 340.43l-2.7 -4.76h5.4zM216.86 339.31l-2.7 -4.76h5.4zM217.6 338.65l-2.7 -4.76h5.4zM218.35 338.24l-2.7 -4.76h5.4zM219.09 338.06l-2.7 -4.76h5.4zM219.83 338.19l-2.7 -4.76h5.4zM220.57 338.84l-2.7 -4.76h5.4zM221.31 339.81l-2.7 -4.76h5.4zM222.06 340.95l-2.7 -4.76h5.4zM222.8 342.17l-2.7 -4.76h5.4zM223.54 343.41l-2.7 -4.76h5.4zM224.28 344.63l-2.7 -4.76h5.4zM225.03 345.94l-2.7 -4.76h5.4zM225.77 347.62l-2.7 -4.76h5.4zM226.51 349.52l-2.7 -4.76h5.4zM227.25 351.54l-2.7 -4.76h5.4zM228 353.59l-2.7 -4.76h5.4zM228.74 355.6l-2.7 -4.76h5.4zM229.48 357.56l-2.7 -4.76h5.4zM230.22 359.66l-2.7 -4.76h5.4zM230.96 361.86l-2.7 -4.76h5.4zM231.71 364.06l-2.7 -4.76h5.4zM232.45 366.21l-2.7 -4.76h5.4zM233.19 368.23l-2.7 -4.76h5.4zM233.93 370.1l-2.7 -4.76h5.4zM234.68 371.9l-2.7 -4.76h5.4zM235.42 373.66l-2.7 -4.76h5.4zM236.16 375.34l-2.7 -4.76h5.4zM236.9 376.93l-2.7 -4.76h5.4zM237.64 378.41l-2.7 -4.76h5.4zM238.39 379.77l-2.7 -4.76h5.4zM239.13 380.98l-2.7 -4.76h5.4zM239.87 382.08l-2.7 -4.76h5.4zM240.61 383.09l-2.7 -4.76h5.4zM241.36 384.07l-2.7 -4.76h5.4zM242.1 385.04l-2.7 -4.76h5.4zM242.84 386.04l-2.7 -4.76h5.4zM250.26 397.41l-2.7 -4.76h5.4zM257.69 405.88l-2.7 -4.76h5.4zM265.11 412.51l-2.7 -4.76h5.4zM272.53 416.9l-2.7 -4.76h5.4zM279.95 419.65l-2.7 -4.76h5.4zM287.38 423.47l-2.7 -4.76h5.4zM294.8 426.82l-2.7 -4.76h5.4zM302.22 429.71l-2.7 -4.76h5.4zM309.64 432.38l-2.7 -4.76h5.4zM317.07 433.91l-2.7 -4.76h5.4zM324.49 435.19l-2.7 -4.76h5.4zM331.91 436.56l-2.7 -4.76h5.4zM339.33 437.84l-2.7 -4.76h5.4zM346.76 439.02l-2.7 -4.76h5.4zM354.18 440.11l-2.7 -4.76h5.4zM361.6 441.13l-2.7 -4.76h5.4z" fill="#a6a600"/>
<path d="M64.7 400.17m-2.5 0a2.5 2.5 0 1 0 5 0a2.5 2.5 0 1 0 -5 0M72.12 400.33m-2.5 0a2.5 2.5 0 1 0 5 0a2.5 2.5 0 1 0 -5 0M79.55 400.54m-2.5 0a2.5 2.5 0 1 0 5 0a2.5 2.5 0 1 0 -5 0M86.97 400.81m-2.5 0a2.5 2.5 0 1 0 5 0a2.5 2.5 0 1 0 -5 0M94.39 401.12m-2.5 0a2.5 2.5 0 1 0 5 0a2.5 2.5 0 1 0 -5 0M101.81 401.5m-2.5 0a2.5 2.5 0 1 0 5 0a2.5 2.5 0 1 0 -5 0M109.24 401.81m-2.5 0a2.5 2.5 0 1 0 5 0a2.5 2.5 0 1 0 -5 0M116.66 402.18m-2.5 0a2.5 2.5 0 1 0 5 0a2.5 2.5 0 1 0 -5 0M124.08 402.61m-2.5 0a2.5 2.5 0 1 0 5 0a2.5 2.5 0 1 0 -5 0M131.5 402.98m-2.5 0a2.5 2.5 0 1 0 5 0a2.5 2.5 0 1 0 -5 0M138.93 402.98m-2.5 0a2.5 2.5 0 1 0 5 0a2.5 2.5 0 1 0 -5 0M146.35 402.18m-2.5 0a2.5 2.5 0 1 0 5 0a2.5 2.5 0 1 0 -5 0M153.77 400.91m-2.5 0a2.5 2.5 0 1 0 5 0a2.5 2.5 0 1 0 -5 0M161.19 398.47m-2.5 0a2.5 2.5 0 1 0 5 0a2.5 2.5 0 1 0 -5 0M168.62 395.29m-2.5 0a2.5 2.5 0 1 0 5 0a2.5 2.5 0 1 0 -5 0M176.04 390.34m-2.5 0a2.5 2.5 0 1 0 5 0a2.5 2.5 0 1 0 -5 0M176.78 389.76m-2.5 0a2.5 2.5 0 1 0 5 0a2.5 2.5 0 1 0 -5 0M177.52 389.17m-2.5 0a2.5 2.5 0 1 0 5 0a2.5 2.5 0 1 0 -5 0M178.26 388.58m-2.5 0a2.5 2.5 0 1 0 5 0a2.5 2.5 0 1 0 -5 0M179.01 387.98m-2.5 0a2.5 2.5 0 1 0 5 0a2.5 2.5 0 1 0 -5 0M179.75 387.39m-2.5 0a2.5 2.5 0 1 0 5 0a2.5 2.5 0 1 0 -5 0M180.49 386.82m-2.5 0a2.5 2.5 0 1 0 5 0a2.5 2.5 0 1 0 -5 0M181.23 386.28m-2.5 0a2.5 2.5 0 1 0 5 0a2.5 2.5 0 1 0 -5 0M181.98 385.8m-2.5 0a2.5 2.5 0 1 0 5 0a2.5 2.5 0 1 0 -5 0M182.72 385.38m-2.5 0a2.5 2.5 0 1 0 5 0a2.5 2.5 0 1 0 -5 0M183.46 385.05m-2.5 0a2.5 2.5 0 1 0 5 0a2.5 2.5 0 1 0 -5 0M184.2 384.8m-2.5 0a2.5 2.5 0 1 0 5 0a2.5 2.5 0 1 0 -5 0M184.94 384.55m-2.5 0a2.5 2.5 0 1 0 5 0a2.5 2.5 0 1 0 -5 0M185.69 384.31m-2.5 0a2.5 2.5 0 1 0 5 0a2.5 2.5 0 1 0 -5 0M186.43 384.08m-2.5 0a2.5 2.5 0 1 0 5 0a2.5 2.5 0 1 0 -5 0M187.17 383.85m-2.5 0a2.5 2.5 0 1 0 5 0a2.5 2.5 0 1 0 -5 0M187.91 383.63m-2.5 0a2.5 2.5 0 1 0 5 0a2.5 2.5 0 1 0 -5 0M188.66 383.43m-2.5 0a2.5 2.5 0 1 0 5 0a2.5 2.5 0 1 0 -5 0M189.4 383.24m-2.5 0a2.5 2.5 0 1 0 5 0a2.5 2.5 0 1 0 -5 0M190.14 383.07m-2.5 0a2.5 2.5 0 1 0 5 0a2.5 2.5 0 1 0 -5 0M190.88 382.93m-2.5 0a2.5 2.5 0 1 0 5 0a2.5 2.5 0 1 0 -5 0M191.62 382.83m-2.5 0a2.5 2.5 0 1 0 5 0a2.5 2.5 0 1 0 -5 0M192.37 382.76m-2.5 0a2.5 2.5 0 1 0 5 0a2.5 2.5 0 1 0 -5 0M193.11 382.73m-2.5 0a2.5 2.5 0 1 0 5 0a2.5 2.5 0 1 0 -5 0M193.85 382.77m-2.5 0a2.5 2.5 0 1 0 5 0a2.5 2.5 0 1 0 -5 0M194.59 382.86m-2.5 0a2.5 2.5 0 1 0 5 0a2.5 2.5 0 1 0 -5 0M195.34 383.02m-2.5 0a2.5 2.5 0 1 0 5 0a2.5 2.5 0 1 0 -5 0M196.08 383.25m-2.5 0a2.5 2.5 0 1 0 5 0a2.5 2.5 0 1 0 -5 0M196.82 383.54m-2.5 0a2.5 2.5 0 1 0 5 0a2.5 2.5 0 1 0 -5 0M197.56 383.9m-2.5 0a2.5 2.5 0 1 0 5 0a2.5 2.5 0 1 0 -5 0M198.31 384.33m-2.5 0a2.5 2.5 0 1 0 5 0a2.5 2.5 0 1 0 -5 0M199.05 384.82m-2.5 0a2.5 2.5 0 1 0 5 0a2.5 2.5 0 1 0 -5 0M199.79 385.38m-2.5 0a2.5 2.5 0 1 0 5 0a2.5 2.5 0 1 0 -5 0M200.53 386m-2.5 0a2.5 2.5 0 1 0 5 0a2.5 2.5 0 1 0 -5 0M201.27 386.66m-2.5 0a2.5 2.5 0 1 0 5 0a2.5 2.5 0 1 0 -5 0M202.02 387.37m-2.5 0a2.5 2.5 0 1 0 5 0a2.5 2.5 0 1 0 -5 0M202.76 388.11m-2.5 0a2.5 2.5 0 1 0 5 0a2.5 2.5 0 1 0 -5 0M203.5 389.04m-2.5 0a2.5 2.5 0 1 0 5 0a2.5 2.5 0 1 0 -5 0M204.24 390.19m-2.5 0a2.5 2.5 0 1 0 5 0a2.5 2.5 0 1 0 -5 0M204.99 391.55m-2.5 0a2.5 2.5 0 1 0 5 0a2.5 2.5 0 1 0 -5 0M205.73 393.09m-2.5 0a2.5 2.5 0 1 0 5 0a2.5 2.5 0 1 0 -5 0M206.47 394.75m-2.5 0a2.5 2.5 0 1 0 5 0a2.5 2.5 0 1 0 -5 0M207.21 396.43m-2.5 0a2.5 2.5 0 1 0 5 0a2.5 2.5 0 1 0 -5 0M207.95 398.27m-2.5 0a2.5 2.5 0 1 0 5 0a2.5 2.5 0 1 0 -5 0M208.7 400.41m-2.5 0a2.5 2.5 0 1 0 5 0a2.5 2.5 0 1 0 -5 0M209.44 402.83m-2.5 0a2.5 2.5 0 1 0 5 0a2.5 2.5 0 1 0 -5 0M210.18 405.38m-2.5 0a2.5 2.5 0 1 0 5 0a2.5 2.5 0 1 0 -5 0M210.92 407.62m-2.5 0a2.5 2.5 0 1 0 5 0a2.5 2.5 0 1 0 -5 0M211.67 409.8m-2.5 0a2.5 2.5 0 1 0 5 0a2.5 2.5 0 1 0 -5 0M212.41 412.53m-2.5 0a2.5 2.5 0 1 0 5 0a2.5 2.5 0 1 0 -5 0M213.15 414.9m-2.5 0a2.5 2.5 0 1 0 5 0a2.5 2.5 0 1 0 -5 0M213.89 412.04m-2.5 0a2.5 2.5 0 1 0 5 0a2.5 2.5 0 1 0 -5 0M214.63 408.85m-2.5 0a2.5 2.5 0 1 0 5 0a2.5 2.5 0 1 0 -5 0M215.38 406.07m-2.5 0a2.5 2.5 0 1 0 5 0a2.5 2.5 0 1 0 -5 0M216.12 402.46m-2.5 0a2.5 2.5 0 1 0 5 0a2.5 2.5 0 1 0 -5 0M216.86 399.07m-2.5 0a2.5 2.5 0 1 0 5 0a2.5 2.5 0 1 0 -5 0M217.6 396.34m-2.5 0a2.5 2.5 0 1 0 5 0a2.5 2.5 0 1 0 -5 0M218.35 394.34m-2.5 0a2.5 2.5 0 1 0 5 0a2.5 2.5 0 1 0 -5 0M219.09 392.79m-2.5 0a2.5 2.5 0 1 0 5 0a2.5 2.5 0 1 0 -5 0M219.83 391.44m-2.5 0a2.5 2.5 0 1 0 5 0a2.5 2.5 0 1 0 -5 0M220.57 390.28m-2.5 0a2.5 2.5 0 1 0 5 0a2.5 2.5 0 1 0 -5 0M221.31 389.32m-2.5 0a2.5 2.5 0 1 0 5 0a2.5 2.5 0 1 0 -5 0M222.06 388.54m-2.5 0a2.5 2.5 0 1 0 5 0a2.5 2.5 0 1 0 -5 0M222.8 387.92m-2.5 0a2.5 2.5 0 1 0 5 0a2.5 2.5 0 1 0 -5 0M223.54 387.42m-2.5 0a2.5 2.5 0 1 0 5 0a2.5 2.5 0 1 0 -5 0M224.28 386.95m-2.5 0a2.5 2.5 0 1 0 5 0a2.5 2.5 0 1 0 -5 0M225.03 386.53m-2.5 0a2.5 2.5 0 1 0 5 0a2.5 2.5 0 1 0 -5 0M225.77 386.17m-2.5 0a2.5 2.5 0 1 0 5 0a2.5 2.5 0 1 0 -5 0M226.51 385.88m-2.5 0a2.5 2.5 0 1 0 5 0a2.5 2.5 0 1 0 -5 0M227.25 385.68m-2.5 0a2.5 2.5 0 1 0 5 0a2.5 2.5 0 1 0 -5 0M228 385.57m-2.5 0a2.5 2.5 0 1 0 5 0a2.5 2.5 0 1 0 -5 0M228.74 385.55m-2.5 0a2.5 2.5 0 1 0 5 0a2.5 2.5 0 1 0 -5 0M229.48 385.7m-2.5 0a2.5 2.5 0 1 0 5 0a2.5 2.5 0 1 0 -5 0M230.22 386.03m-2.5 0a2.5 2.5 0 1 0 5 0a2.5 2.5 0 1 0 -5 0M230.96 386.48m-2.5 0a2.5 2.5 0 1 0 5 0a2.5 2.5 0 1 0 -5 0M231.71 387.01m-2.5 0a2.5 2.5 0 1 0 5 0a2.5 2.5 0 1 0 -5 0M232.45 387.6m-2.5 0a2.5 2.5 0 1 0 5 0a2.5 2.5 0 1 0 -5 0M233.19 388.22m-2.5 0a2.5 2.5 0 1 0 5 0a2.5 2.5 0 1 0 -5 0M233.93 388.84m-2.5 0a2.5 2.5 0 1 0 5 0a2.5 2.5 0 1 0 -5 0M234.68 389.45m-2.5 0a2.5 2.5 0 1 0 5 0a2.5 2.5 0 1 0 -5 0M235.42 390.11m-2.5 0a2.5 2.5 0 1 0 5 0a2.5 2.5 0 1 0 -5 0M236.16 390.93m-2.5 0a2.5 2.5 0 1 0 5 0a2.5 2.5 0 1 0 -5 0M236.9 391.86m-2.5 0a2.5 2.5 0 1 0 5 0a2.5 2.5 0 1 0 -5 0M237.64 392.85m-2.5 0a2.5 2.5 0 1 0 5 0a2.5 2.5 0 1 0 -5 0M238.39 393.86m-2.5 0a2.5 2.5 0 1 0 5 0a2.5 2.5 0 1 0 -5 0M239.13 394.86m-2.5 0a2.5 2.5 0 1 0 5 0a2.5 2.5 0 1 0 -5 0M239.87 395.82m-2.5 0a2.5 2.5 0 1 0 5 0a2.5 2.5 0 1 0 -5 0M240.61 396.71m-2.5 0a2.5 2.5 0 1 0 5 0a2.5 2.5 0 1 0 -5 0M241.36 397.52m-2.5 0a2.5 2.5 0 1 0 5 0a2.5 2.5 0 1 0 -5 0M242.1 398.26m-2.5 0a2.5 2.5 0 1 0 5 0a2.5 2.5 0 1 0 -5 0M242.84 398.98m-2.5 0a2.5 2.5 0 1 0 5 0a2.5 2.5 0 1 0 -5 0M250.26 407.09m-2.5 0a2.5 2.5 0 1 0 5 0a2.5 2.5 0 1 0 -5 0M257.69 415.27m-2.5 0a2.5 2.5 0 1 0 5 0a2.5 2.5 0 1 0 -5 0M265.11 420.67m-2.5 0a2.5 2.5 0 1 0 5 0a2.5 2.5 0 1 0 -5 0M272.53 424.98m-2.5 0a2.5 2.5 0 1 0 5 0a2.5 2.5 0 1 0 -5 0M279.95 429.01m-2.5 0a2.5 2.5 0 1 0 5 0a2.5 2.5 0 1 0 -5 0M287.38 431.9m-2.5 0a2.5 2.5 0 1 0 5 0a2.5 2.5 0 1 0 -5 0M294.8 433.82m-2.5 0a2.5 2.5 0 1 0 5 0a2.5 2.5 0 1 0 -5 0M302.22 435.62m-2.5 0a2.5 2.5 0 1 0 5 0a2.5 2.5 0 1 0 -5 0M309.64 437.28m-2.5 0a2.5 2.5 0 1 0 5 0a2.5 2.5 0 1 0 -5 0M317.07 438.68m-2.5 0a2.5 2.5 0 1 0 5 0a2.5 2.5 0 1 0 -5 0M324.49 439.81m-2.5 0a2.5 2.5 0 1 0 5 0a2.5 2.5 0 1 0 -5 0M331.91 440.69m-2.5 0a2.5 2.5 0 1 0 5 0a2.5 2.5 0 1 0 -5 0M339.33 441.4m-2.5 0a2.5 2.5 0 1 0 5 0a2.5 2.5 0 1 0 -5 0M346.76 442.02m-2.5 0a2.5 2.5 0 1 0 5 0a2.5 2.5 0 1 0 -5 0M354.18 442.55m-2.5 0a2.5 2.5 0 1 0 5 0a2.5 2.5 0 1 0 -5 0M361.6 442.99m-2.5 0a2.5 2.5 0 1 0 5 0a2.5 2.5 0 1 0 -5 0" fill="none" stroke="#ff8000" stroke-width="0.6" stroke-opacity="0.75"/>
<path d="M62.4 438.57h4.6v4.6h-4.6zM69.82 438.47h4.6v4.6h-4.6zM77.25 438.2h4.6v4.6h-4.6zM84.67 437.61h4.6v4.6h-4.6zM92.09 436.61h4.6v4.6h-4.6zM99.51 435.08h4.6v4.6h-4.6zM106.94 433.59h4.6v4.6h-4.6zM114.36 431.15h4.6v4.6h-4.6zM121.78 428.45h4.6v4.6h-4.6zM129.2 426.12h4.6v4.6h-4.6zM136.62 423.73h4.6v4.6h-4.6zM144.05 420.55h4.6v4.6h-4.6zM151.47 417.21h4.6v4.6h-4.6zM158.89 413.82h4.6v4.6h-4.6zM166.31 410.06h4.6v4.6h-4.6zM173.74 409.12h4.6v4.6h-4.6zM174.48 409.08h4.6v4.6h-4.6zM175.22 409.04h4.6v4.6h-4.6zM175.96 409.01h4.6v4.6h-4.6zM176.71 408.98h4.6v4.6h-4.6zM177.45 408.96h4.6v4.6h-4.6zM178.19 408.94h4.6v4.6h-4.6zM178.93 408.92h4.6v4.6h-4.6zM179.68 408.91h4.6v4.6h-4.6zM180.42 408.9h4.6v4.6h-4.6zM181.16 408.89h4.6v4.6h-4.6zM181.9 408.91h4.6v4.6h-4.6zM182.64 408.99h4.6v4.6h-4.6zM183.39 409.13h4.6v4.6h-4.6zM184.13 409.33h4.6v4.6h-4.6zM184.87 409.57h4.6v4.6h-4.6zM185.61 409.84h4.6v4.6h-4.6zM186.36 410.12h4.6v4.6h-4.6zM187.1 410.4h4.6v4.6h-4.6zM187.84 410.7h4.6v4.6h-4.6zM188.58 411.04h4.6v4.6h-4.6zM189.32 411.42h4.6v4.6h-4.6zM190.07 411.84h4.6v4.6h-4.6zM190.81 412.29h4.6v4.6h-4.6zM191.55 412.78h4.6v4.6h-4.6zM192.29 413.3h4.6v4.6h-4.6zM193.04 413.85h4.6v4.6h-4.6zM193.78 414.45h4.6v4.6h-4.6zM194.52 415.11h4.6v4.6h-4.6zM195.26 415.83h4.6v4.6h-4.6zM196 416.6h4.6v4.6h-4.6zM196.75 417.42h4.6v4.6h-4.6zM197.49 418.27h4.6v4.6h-4.6zM198.23 419.14h4.6v4.6h-4.6zM198.97 420.05h4.6v4.6h-4.6zM199.72 421.04h4.6v4.6h-4.6zM200.46 422.11h4.6v4.6h-4.6zM201.2 423.25h4.6v4.6h-4.6zM201.94 424.44h4.6v4.6h-4.6zM202.69 425.66h4.6v4.6h-4.6zM203.43 426.89h4.6v4.6h-4.6zM204.17 428.08h4.6v4.6h-4.6zM204.91 429.36h4.6v4.6h-4.6zM205.65 430.74h4.6v4.6h-4.6zM206.4 432.17h4.6v4.6h-4.6zM207.14 433.48h4.6v4.6h-4.6zM207.88 434.41h4.6v4.6h-4.6zM208.62 435.31h4.6v4.6h-4.6zM209.37 436.34h4.6v4.6h-4.6zM210.11 437.5h4.6v4.6h-4.6zM210.85 438.41h4.6v4.6h-4.6zM211.59 436.54h4.6v4.6h-4.6zM212.33 434.35h4.6v4.6h-4.6zM213.08 432.58h4.6v4.6h-4.6zM213.82 430.82h4.6v4.6h-4.6zM214.56 428.75h4.6v4.6h-4.6zM215.3 426.72h4.6v4.6h-4.6zM216.05 424.87h4.6v4.6h-4.6zM216.79 423.24h4.6v4.6h-4.6zM217.53 421.78h4.6v4.6h-4.6zM218.27 420.38h4.6v4.6h-4.6zM219.01 419.04h4.6v4.6h-4.6zM219.76 417.77h4.6v4.6h-4.6zM220.5 416.57h4.6v4.6h-4.6zM221.24 415.44h4.6v4.6h-4.6zM221.98 414.37h4.6v4.6h-4.6zM222.73 413.36h4.6v4.6h-4.6zM223.47 412.33h4.6v4.6h-4.6zM224.21 411.29h4.6v4.6h-4.6zM224.95 410.29h4.6v4.6h-4.6zM225.7 409.36h4.6v4.6h-4.6zM226.44 408.52h4.6v4.6h-4.6zM227.18 407.79h4.6v4.6h-4.6zM227.92 407.19h4.6v4.6h-4.6zM228.66 406.69h4.6v4.6h-4.6zM229.41 406.2h4.6v4.6h-4.6zM230.15 405.73h4.6v4.6h-4.6zM230.89 405.31h4.6v4.6h-4.6zM231.63 404.96h4.6v4.6h-4.6zM232.38 404.69h4.6v4.6h-4.6zM233.12 404.52h4.6v4.6h-4.6zM233.86 404.44h4.6v4.6h-4.6zM234.6 404.46h4.6v4.6h-4.6zM235.34 404.53h4.6v4.6h-4.6zM236.09 404.64h4.6v4.6h-4.6zM236.83 404.78h4.6v4.6h-4.6zM237.57 404.96h4.6v4.6h-4.6zM238.31 405.16h4.6v4.6h-4.6zM239.06 405.38h4.6v4.6h-4.6zM239.8 405.61h4.6v4.6h-4.6zM240.54 405.86h4.6v4.6h-4.6zM247.96 409.9h4.6v4.6h-4.6zM255.38 413.5h4.6v4.6h-4.6zM262.81 418.74h4.6v4.6h-4.6zM270.23 423.32h4.6v4.6h-4.6zM277.65 427.61h4.6v4.6h-4.6zM285.07 431.57h4.6v4.6h-4.6zM292.5 434.97h4.6v4.6h-4.6zM299.92 437.94h4.6v4.6h-4.6zM307.34 439.94h4.6v4.6h-4.6zM314.77 441.45h4.6v4.6h-4.6zM322.19 442.65h4.6v4.6h-4.6zM329.61 443.54h4.6v4.6h-4.6zM337.03 444.25h4.6v4.6h-4.6zM344.46 444.84h4.6v4.6h-4.6zM351.88 445.09h4.6v4.6h-4.6zM359.3 445.25h4.6v4.6h-4.6z" fill="none" stroke="#ff0000" stroke-width="0.6" stroke-opacity="0.75"/>
</g>
<rect x="59.1" y="0.8" width="307.59999999999997" height="461.7" fill="none" stroke="#000" stroke-width="2"/>
<path d="M64.7 462.5v-4.3M64.7 0.8v4.3M79.55 462.5v-2.6M79.55 0.8v2.6M94.39 462.5v-2.6M94.39 0.8v2.6M109.23 462.5v-2.6M109.23 0.8v2.6M124.08 462.5v-2.6M124.08 0.8v2.6M138.93 462.5v-4.3M138.93 0.8v4.3M153.77 462.5v-2.6M153.77 0.8v2.6M168.62 462.5v-2.6M168.62 0.8v2.6M183.46 462.5v-2.6M183.46 0.8v2.6M198.31 462.5v-2.6M198.31 0.8v2.6M213.15 462.5v-4.3M213.15 0.8v4.3M228 462.5v-2.6M228 0.8v2.6M242.84 462.5v-2.6M242.84 0.8v2.6M257.69 462.5v-2.6M257.69 0.8v2.6M272.53 462.5v-2.6M272.53 0.8v2.6M287.38 462.5v-4.3M287.38 0.8v4.3M302.22 462.5v-2.6M302.22 0.8v2.6M317.06 462.5v-2.6M317.06 0.8v2.6M331.91 462.5v-2.6M331.91 0.8v2.6M346.75 462.5v-2.6M346.75 0.8v2.6M361.6 462.5v-4.3M361.6 0.8v4.3M59.1 453.7h4.3M366.7 453.7h-4.3M59.1 427.2h2.8M366.7 427.2h-2.8M59.1 400.7h2.8M366.7 400.7h-2.8M59.1 374.2h2.8M366.7 374.2h-2.8M59.1 347.7h4.3M366.7 347.7h-4.3M59.1 321.2h2.8M366.7 321.2h-2.8M59.1 294.7h2.8M366.7 294.7h-2.8M59.1 268.2h2.8M366.7 268.2h-2.8M59.1 241.7h4.3M366.7 241.7h-4.3M59.1 215.2h2.8M366.7 215.2h-2.8M59.1 188.7h2.8M366.7 188.7h-2.8M59.1 162.2h2.8M366.7 162.2h-2.8M59.1 135.7h4.3M366.7 135.7h-4.3M59.1 109.2h2.8M366.7 109.2h-2.8M59.1 82.7h2.8M366.7 82.7h-2.8M59.1 56.2h2.8M366.7 56.2h-2.8M59.1 29.7h4.3M366.7 29.7h-4.3M59.1 3.2h2.8M366.7 3.2h-2.8" stroke="#000" stroke-width="1.5" fill="none"/>
<g font-family="Liberation Serif, serif" font-size="18px" fill="#000" stroke="#000" stroke-width="0.2">
<text x="55.4" y="459.2" text-anchor="end" textLength="23.4" lengthAdjust="spacingAndGlyphs">0.0</text>
<text x="55.4" y="353.2" text-anchor="end" textLength="23.4" lengthAdjust="spacingAndGlyphs">0.2</text>
<text x="55.4" y="247.2" text-anchor="end" textLength="23.4" lengthAdjust="spacingAndGlyphs">0.4</text>
<text x="55.4" y="141.2" text-anchor="end" textLength="23.4" lengthAdjust="spacingAndGlyphs">0.6</text>
<text x="55.4" y="35.2" text-anchor="end" textLength="23.4" lengthAdjust="spacingAndGlyphs">0.8</text>
<text x="64.6" y="481.6" text-anchor="middle" textLength="23.4" lengthAdjust="spacingAndGlyphs">0.0</text>
<text x="138.83" y="481.6" text-anchor="middle" textLength="23.4" lengthAdjust="spacingAndGlyphs">0.5</text>
<text x="213.05" y="481.6" text-anchor="middle" textLength="23.4" lengthAdjust="spacingAndGlyphs">1.0</text>
<text x="287.27" y="481.6" text-anchor="middle" textLength="23.4" lengthAdjust="spacingAndGlyphs">1.5</text>
<text x="361.5" y="481.6" text-anchor="middle" textLength="23.4" lengthAdjust="spacingAndGlyphs">2.0</text>
</g>
<g font-family="Liberation Serif, serif" fill="#000">
<g transform="translate(203.4 513.4) skewX(-8)"><text x="0" y="0" font-size="25px" stroke="#000" stroke-width="0.3">g</text></g>
<text x="214.6" y="516" font-size="14.8px" stroke="#000" stroke-width="0.2">0</text>
<g transform="translate(19.0 288.6) rotate(-90)" stroke="#000" stroke-width="0.3"><g fill="none" stroke="#000" stroke-linecap="round" stroke-linejoin="round"><path stroke-width="1.9" d="M8.2 -14.3C7 -9.5 5.6 -4.2 4.4 -1.4"/><path stroke-width="1.1" d="M4.4 -1.4C3.8 0.1 2 0.5 0.9 -0.4C0 -1.3 0.7 -2.9 2 -2.6C2.9 -2.3 2.8 -1.2 2.2 -0.9"/><path stroke-width="1.1" d="M2.3 -11.6C2.6 -14.2 5.5 -15.4 9 -15.2C12 -15 14 -13.6 14.9 -11.5M13.6 -3.6C11.6 -1.2 8.8 -0.1 5.6 -0.1C4.8 -0.1 4.2 -0.4 3.7 -0.8"/><path stroke-width="2.1" d="M14.6 -12C15.6 -9.5 15.2 -6 13.6 -3.6"/></g><text x="17.2" y="0.6" font-size="24px">/</text><text x="25.8" y="0" font-size="21.5px" font-style="italic" stroke="#000" stroke-width="0.25">β</text><text x="41.3" y="0" font-size="22px" stroke="none">(</text><text x="47.6" y="3" font-size="27.5px" stroke-width="0.1">×</text><text x="60.5" y="0" font-size="22px">1</text><text x="70" y="0" font-size="22px" textLength="12.3" lengthAdjust="spacingAndGlyphs">0</text><text x="83.2" y="-8.3" font-size="15.2px" textLength="10" lengthAdjust="spacingAndGlyphs">−</text><text x="95" y="-8.3" font-size="15.2px" textLength="8.2" lengthAdjust="spacingAndGlyphs">4</text><text x="106.6" y="0" font-size="22px" stroke="none">)</text></g>
</g>
<g font-family="Liberation Serif, serif" font-size="16.6px" fill="#000">
<path d="M243.9 47.7H260.8" stroke="#800080" stroke-width="1.6"/>
<path d="M252.4 47.7m-2.52 0a2.52 2.52 0 1 0 5.04 0a2.52 2.52 0 1 0 -5.04 0" fill="#800080"/>
<text x="270.6" y="54.95" textLength="24.6" lengthAdjust="spacingAndGlyphs" stroke="#000" stroke-width="0.25">150</text>
<path d="M243.9 76.2H260.8" stroke="#0000ff" stroke-width="1.6"/>
<path d="M250.11 73.91h4.59v4.59h-4.59z" fill="#0000ff"/>
<text x="270.6" y="83.45" textLength="24.6" lengthAdjust="spacingAndGlyphs" stroke="#000" stroke-width="0.25">100</text>
<path d="M243.9 104.7H260.8" stroke="#00ffff" stroke-width="1.6"/>
<path d="M252.4 102l2.38 2.7l-2.38 2.7l-2.38 -2.7z" fill="#00ffff"/>
<text x="270.6" y="111.95" textLength="16.4" lengthAdjust="spacingAndGlyphs" stroke="#000" stroke-width="0.25">50</text>
<path d="M243.9 133.2H260.8" stroke="#00a000" stroke-width="1.6"/>
<path d="M252.4 130.77l2.34 4.13h-4.68z" fill="#00a000"/>
<text x="270.6" y="140.45" textLength="16.4" lengthAdjust="spacingAndGlyphs" stroke="#000" stroke-width="0.25">20</text>
<path d="M311.8 47.7H328.7" stroke="#a6a600" stroke-width="1.6"/>
<path d="M320 50.28l-2.48 -4.38h4.97z" fill="#a6a600"/>
<text x="337.8" y="54.95" textLength="16.4" lengthAdjust="spacingAndGlyphs" stroke="#000" stroke-width="0.25">10</text>
<path d="M311.8 76.2H328.7" stroke="#ff8000" stroke-width="1.6"/>
<path d="M320 76.2m-2.3 0a2.3 2.3 0 1 0 4.6 0a2.3 2.3 0 1 0 -4.6 0" fill="none" stroke="#ff8000" stroke-width="0.6" stroke-opacity="0.75"/>
<text x="337.8" y="83.45" textLength="8.2" lengthAdjust="spacingAndGlyphs" stroke="#000" stroke-width="0.25">5</text>
<path d="M311.8 104.7H328.7" stroke="#ff0000" stroke-width="1.6"/>
<path d="M317.88 102.58h4.23v4.23h-4.23z" fill="none" stroke="#ff0000" stroke-width="0.6" stroke-opacity="0.75"/>
<text x="337.8" y="111.95" textLength="8.2" lengthAdjust="spacingAndGlyphs" stroke="#000" stroke-width="0.25">3</text>
</g>
<defs><clipPath id="cp"><rect x="59.1" y="0.8" width="307.59999999999997" height="461.7"/></clipPath></defs>
</svg>
</body></html>
